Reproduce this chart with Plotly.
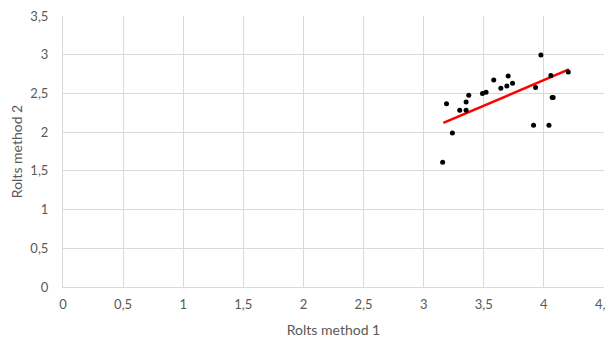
import plotly.graph_objects as go

method1 = [3.158, 3.19, 3.239, 3.30, 3.353, 3.353, 3.375, 3.489, 3.519, 3.583, 3.642,
           3.692, 3.703, 3.739, 3.914, 3.931, 3.975, 4.042, 4.058, 4.069, 4.077, 4.203]
method2 = [1.611, 2.368, 1.99, 2.283, 2.283, 2.39, 2.477, 2.50, 2.515, 2.674, 2.567,
           2.597, 2.726, 2.632, 2.089, 2.575, 2.997, 2.089, 2.73, 2.446, 2.446, 2.778]

trend_x = [3.164, 4.208]
trend_y = [2.119, 2.81]

x_ticks = [0, 0.5, 1, 1.5, 2, 2.5, 3, 3.5, 4, 4.5]
y_ticks = [0, 0.5, 1, 1.5, 2, 2.5, 3, 3.5]

fig = go.Figure()
fig.add_trace(go.Scatter(x=trend_x, y=trend_y, mode="lines",
                         line=dict(color="#ff0000", width=2.5), showlegend=False))
fig.add_trace(go.Scatter(x=method1, y=method2, mode="markers",
                         marker=dict(color="black", size=5), showlegend=False))

font = "Lato, 'Open Sans', sans-serif"
fig.update_layout(
    width=605, height=333,
    margin=dict(l=55, r=9, t=8, b=54),
    paper_bgcolor="white", plot_bgcolor="white",
    separators=", ",
    font=dict(family=font, size=13, color="#595959"),
    xaxis=dict(range=[0, 4.5], tickvals=x_ticks, showgrid=True, gridcolor="#d9d9d9",
               gridwidth=1, zeroline=False, showline=True, linecolor="#d9d9d9",
               ticks="", automargin=False, ticklabelstandoff=5, ticklabeloverflow="allow",
               title=dict(text="Rolts method 1", font=dict(size=14, color="#595959"), standoff=14),
               tickfont=dict(size=13, color="#595959")),
    yaxis=dict(range=[0, 3.5], tickvals=y_ticks, showgrid=True, gridcolor="#d9d9d9",
               gridwidth=1, zeroline=False, showline=True, linecolor="#d9d9d9",
               ticks="", automargin=False, ticklabelstandoff=11, ticklabeloverflow="allow",
               title=dict(text="Rolts method 2", font=dict(size=14, color="#595959"), standoff=13),
               tickfont=dict(size=13, color="#595959")),
)
fig.write_html("out.html")
